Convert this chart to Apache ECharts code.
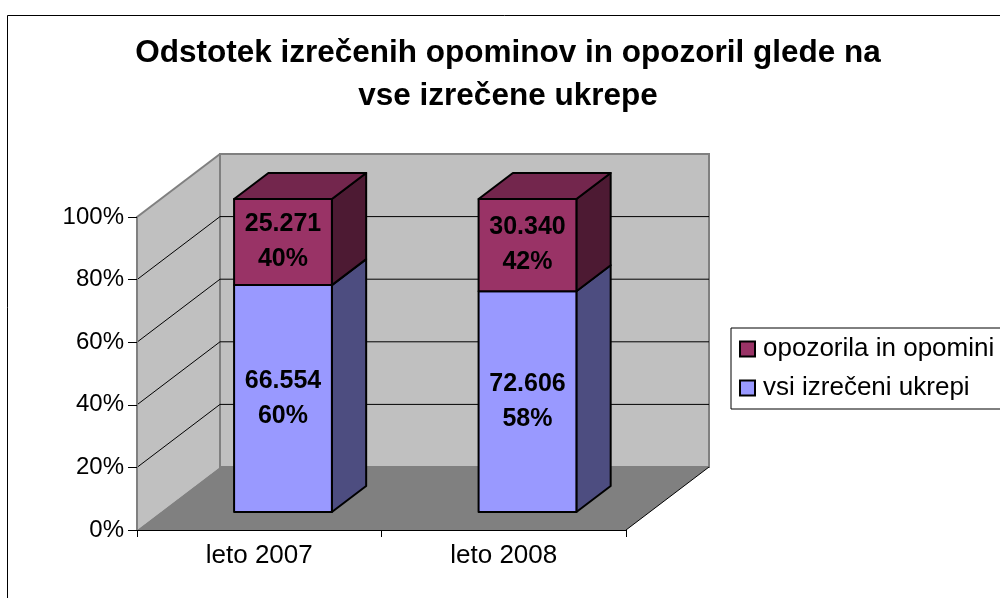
<!DOCTYPE html>
<html>
<head>
<meta charset="utf-8">
<script src="https://cdn.jsdelivr.net/npm/echarts@6/dist/echarts.min.js"></script>
<style>
html,body{margin:0;padding:0;background:#fff;}
#chart{width:1000px;height:598px;}
</style>
</head>
<body>
<div id="chart"></div>
<script>
// ---- data ----
var categories = ['leto 2007', 'leto 2008'];
var seriesNames = ['vsi izrečeni ukrepi', 'opozorila in opomini'];
var ukrepiValues = [66554, 72606];      // bottom segment
var opominiValues = [25271, 30340];     // top segment
var ukrepiLabelPct = [60, 58];
var opominiLabelPct = [40, 42];
var yTicks = [0, 20, 40, 60, 80, 100];
var titleText = 'Odstotek izrečenih opominov in opozoril glede na\nvse izrečene ukrepe';

// ---- styling constants ----
var FONT = '"Liberation Sans", Arial, sans-serif';
var DEPTH = [83, -63];          // 3D depth projection
var BAR_FRONT = 0.286, BAR_BACK = 0.699, BAR_W = 0.40;

function fmt(n) {
  return String(n).replace(/\B(?=(\d{3})+(?!\d))/g, '.');
}

// build stacked percentage data
var ukrepiData = [], opominiData = [];
for (var i = 0; i < categories.length; i++) {
  var tot = ukrepiValues[i] + opominiValues[i];
  var p = ukrepiValues[i] / tot * 100;
  ukrepiData.push([i, 0, p, ukrepiValues[i], ukrepiLabelPct[i], 0]);
  opominiData.push([i, p, 100, opominiValues[i], opominiLabelPct[i], 1]);
}

var palette = {
  'vsi izrečeni ukrepi': {front: '#9999ff', top: '#7373bf', side: '#4d4d80'},
  'opozorila in opomini': {front: '#993366', top: '#73264d', side: '#4d1a33'}
};

function barRenderer(name) {
  var col = palette[name];
  return function (params, api) {
    var cat = api.value(0), v0 = api.value(1), v1 = api.value(2);
    var raw = api.value(3), lp = api.value(4), isTop = api.value(5) === 1;
    var pb = api.coord([cat, v0]);
    var pt = api.coord([cat, v1]);
    var band = api.size([1, 0])[0];
    var bw = band * BAR_W;
    var xl = pb[0] - bw / 2 + DEPTH[0] * BAR_FRONT;
    var xr = xl + bw;
    var yb = pb[1] + DEPTH[1] * BAR_FRONT;
    var yt = pt[1] + DEPTH[1] * BAR_FRONT;
    var ddx = DEPTH[0] * (BAR_BACK - BAR_FRONT), ddy = DEPTH[1] * (BAR_BACK - BAR_FRONT);
    var stroke = {stroke: '#000', lineWidth: 2, lineJoin: 'round'};
    var children = [];
    children.push({
      type: 'polygon',
      shape: {points: [[xr, yb], [xr, yt], [xr + ddx, yt + ddy], [xr + ddx, yb + ddy]]},
      style: Object.assign({fill: col.side}, stroke)
    });
    if (isTop) {
      children.push({
        type: 'polygon',
        shape: {points: [[xl, yt], [xr, yt], [xr + ddx, yt + ddy], [xl + ddx, yt + ddy]]},
        style: Object.assign({fill: col.top}, stroke)
      });
    }
    children.push({
      type: 'rect',
      shape: {x: xl, y: yt, width: bw, height: yb - yt},
      style: Object.assign({fill: col.front}, stroke)
    });
    children.push({
      type: 'text',
      x: (xl + xr) / 2,
      y: (yt + yb) / 2,
      style: {
        text: fmt(raw) + '\n' + lp + '%',
        fontFamily: FONT, fontSize: 25, fontWeight: 'bold', fill: '#000',
        lineHeight: 35, align: 'center', verticalAlign: 'middle'
      }
    });
    return {type: 'group', children: children};
  };
}

function wallsRenderer(params, api) {
  var cs = params.coordSys;
  var x = cs.x, y = cs.y, w = cs.width, h = cs.height;
  var dx = DEPTH[0], dy = DEPTH[1];
  var children = [];
  children.push({type: 'polygon', shape: {points: [[x, y], [x + dx, y + dy], [x + dx, y + h + dy], [x, y + h]]},
    style: {fill: '#c0c0c0'}});
  children.push({type: 'rect', shape: {x: x + dx, y: y + dy, width: w, height: h},
    style: {fill: '#c0c0c0', stroke: '#808080', lineWidth: 2}});
  children.push({type: 'polygon', shape: {points: [[x, y + h], [x + w, y + h], [x + w + dx, y + h + dy], [x + dx, y + h + dy]]},
    style: {fill: '#808080'}});
  for (var k = 0; k < yTicks.length; k++) {
    var v = yTicks[k];
    var yy = api.coord([0, v])[1];
    if (v > 0 && v < 100) {
      children.push({type: 'line', shape: {x1: x, y1: yy, x2: x + dx, y2: yy + dy}, style: {stroke: '#000', lineWidth: 1}});
      children.push({type: 'line', shape: {x1: x + dx, y1: yy + dy, x2: x + w + dx, y2: yy + dy}, style: {stroke: '#000', lineWidth: 1}});
    } else if (v === 100) {
      children.push({type: 'line', shape: {x1: x, y1: yy, x2: x + dx, y2: yy + dy}, style: {stroke: '#808080', lineWidth: 2}});
    }
  }
  children.push({type: 'line', shape: {x1: x + w, y1: y + h, x2: x + w + dx, y2: y + h + dy}, style: {stroke: '#000', lineWidth: 1}});
  return {type: 'group', children: children};
}

var chart = echarts.init(document.getElementById('chart'), null, {renderer: 'canvas'});
chart.setOption({
  backgroundColor: '#fff',
  animation: false,
  graphic: [{
    type: 'rect', left: 5, top: 13, z: 100, silent: true,
    shape: {width: 1010, height: 600},
    style: {fill: 'none', stroke: '#000', lineWidth: 1}
  }, {
    type: 'text', x: 508, y: 32, z: 100, silent: true,
    style: {
      text: titleText, fontFamily: FONT, fontSize: 31.5, fontWeight: 'bold', fill: '#000',
      lineHeight: 43, align: 'center', verticalAlign: 'top'
    }
  }],
  legend: {
    data: ['opozorila in opomini', 'vsi izrečeni ukrepi'],
    orient: 'vertical',
    left: 731, top: 328,
    padding: [6, 8, 6, 8],
    itemWidth: 15, itemHeight: 15, itemGap: 9,
    icon: 'rect',
    backgroundColor: '#fff', borderColor: '#000', borderWidth: 1,
    itemStyle: {borderColor: '#000', borderWidth: 2},
    textStyle: {fontFamily: FONT, fontSize: 26, color: '#000', lineHeight: 30, padding: [0, 0, 0, 3]}
  },
  grid: {left: 137, top: 217, width: 489, height: 313},
  xAxis: {
    type: 'category', data: categories, z: 5,
    axisLine: {lineStyle: {color: '#000', width: 1}},
    axisTick: {show: true, length: 7, lineStyle: {color: '#000'}},
    axisLabel: {fontFamily: FONT, fontSize: 26, color: '#000', margin: 13},
    splitLine: {show: false}
  },
  yAxis: {
    type: 'value', min: 0, max: 100, interval: 20, z: 5,
    axisLine: {show: true, lineStyle: {color: '#808080', width: 2}},
    axisTick: {show: true, length: 9, lineStyle: {color: '#000'}},
    axisLabel: {fontFamily: FONT, fontSize: 24, color: '#000', margin: 13, formatter: '{value}%'},
    splitLine: {show: false}
  },
  series: [
    {
      type: 'custom', name: 'walls', z: 1, silent: true,
      data: [[0, 0]], renderItem: wallsRenderer
    },
    {
      type: 'custom', name: seriesNames[0], z: 4,
      itemStyle: {color: palette[seriesNames[0]].front},
      data: ukrepiData, renderItem: barRenderer(seriesNames[0])
    },
    {
      type: 'custom', name: seriesNames[1], z: 4,
      itemStyle: {color: palette[seriesNames[1]].front},
      data: opominiData, renderItem: barRenderer(seriesNames[1])
    }
  ]
});
</script>
</body>
</html>
